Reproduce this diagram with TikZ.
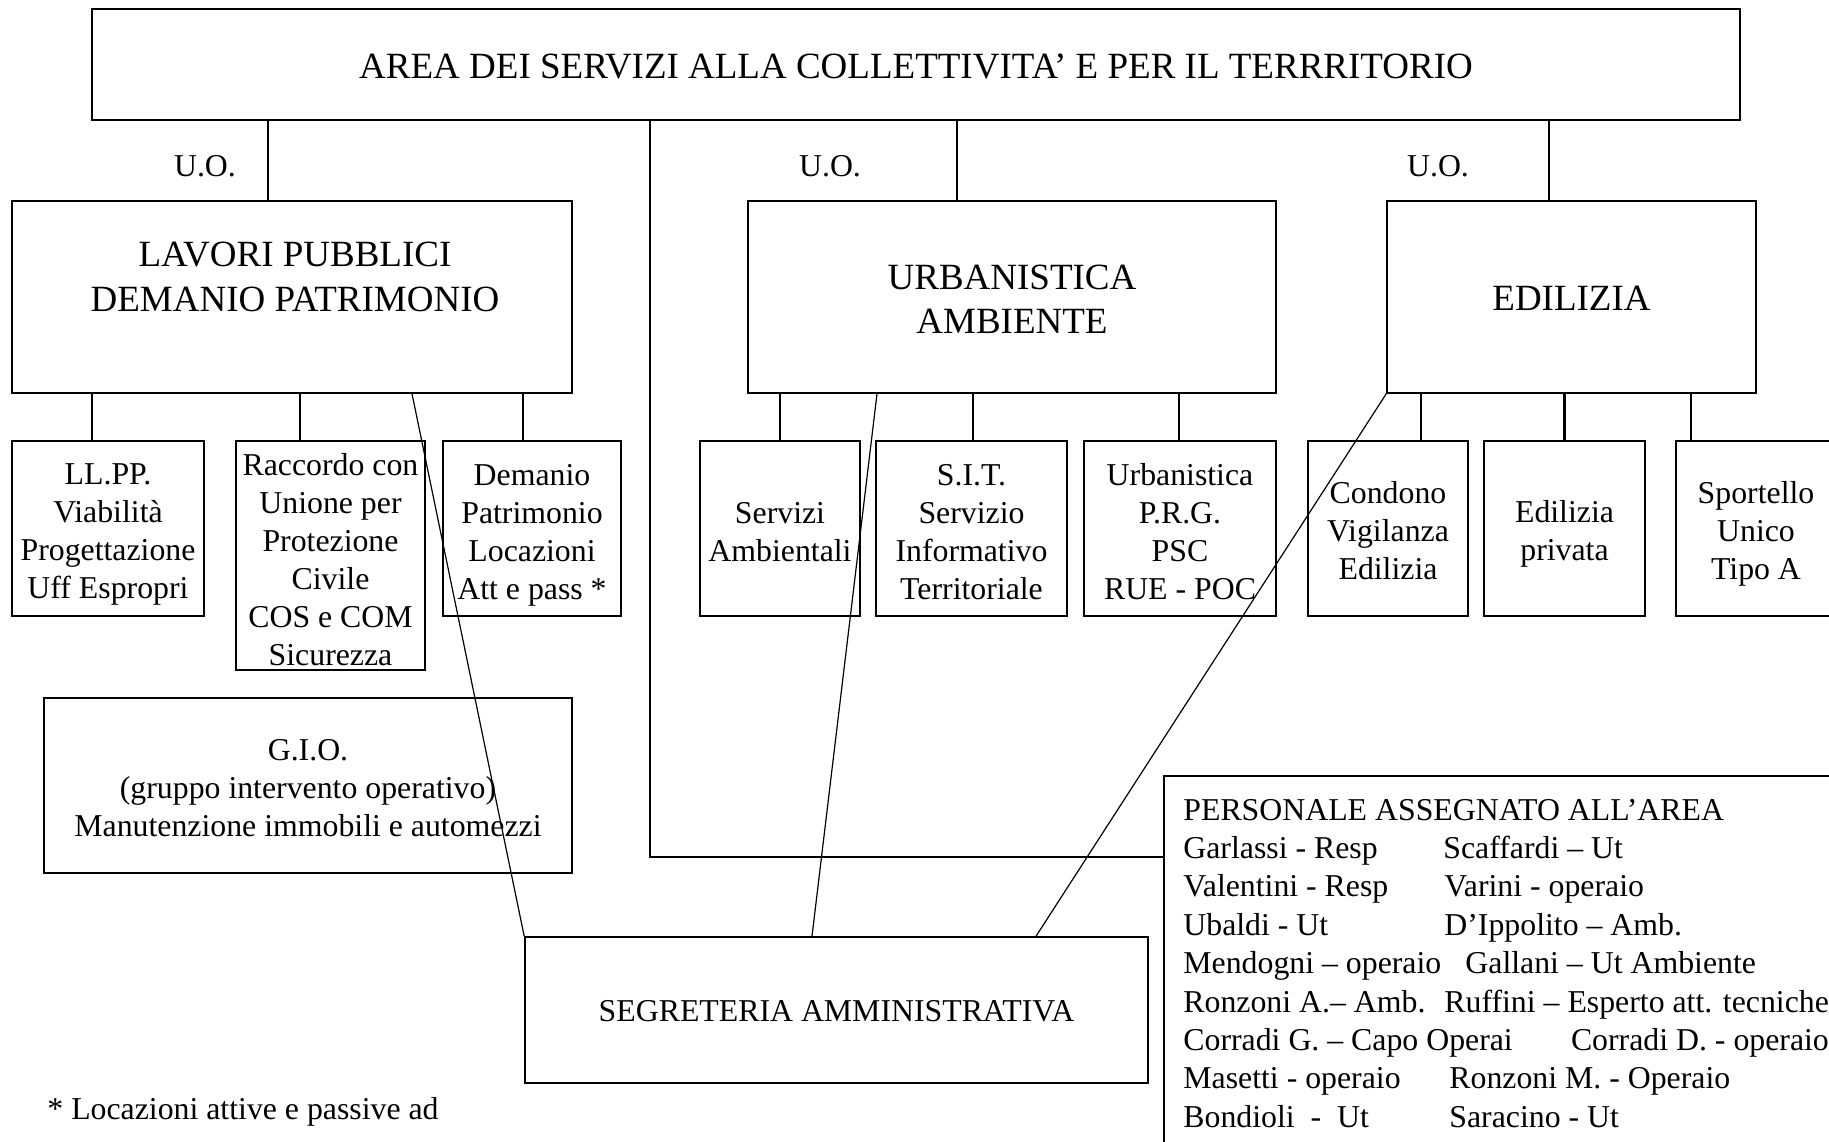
\documentclass[tikz,border=0pt]{standalone}
\usepackage{fontspec}
\setmainfont{Liberation Serif}
\newcommand\fsmall{\fontsize{15.9pt}{19pt}\selectfont}
\newcommand\fbig{\fontsize{18.5pt}{22.25pt}\selectfont}
\newcommand\fpers{\fontsize{15.9pt}{19.2pt}\selectfont}
\begin{document}
\begin{tikzpicture}[x=0.5pt,y=-0.5pt,
  frame/.style={draw, line width=0.8pt, inner sep=0pt},
  txt/.style={inner sep=0pt, align=center, font=\fsmall},
  bigtxt/.style={inner sep=0pt, align=center, font=\fbig},
  conn/.style={line width=1pt},
  stub/.style={line width=1.1pt},
  segline/.style={line width=1.25pt},
  diag/.style={line width=0.6pt}]
\useasboundingbox (0,0) rectangle (1829,1141);
% top box
\node[frame, minimum width=824pt, minimum height=55.5pt] (top) at (916,64.5) {};
\node[bigtxt] (topt) at ([yshift=-1.2pt]top.center)
  {AREA DEI SERVIZI ALLA COLLETTIVITA’ E PER IL TERRRITORIO};
% U.O. labels
\node[txt] (uo1) at (205,166.5) {U.O.};
\node[txt] (uo2) at (830,166.5) {U.O.};
\node[txt] (uo3) at (1438,166.5) {U.O.};
% main units
\node[frame, minimum width=280pt, minimum height=96pt] (lav) at (292,297) {};
\node[bigtxt] (lavt) at (295,277) {LAVORI PUBBLICI\\DEMANIO PATRIMONIO};
\node[frame, minimum width=264pt, minimum height=96pt] (urb) at (1012,297) {};
\node[bigtxt] (urbt) at ([yshift=-1.2pt]urb.center) {URBANISTICA\\AMBIENTE};
\node[frame, minimum width=184.5pt, minimum height=96pt] (edi) at (1571.5,297) {};
\node[bigtxt] (edit) at ([yshift=-0.6pt]edi.center) {EDILIZIA};
% sub boxes
\node[frame, minimum width=96pt, minimum height=87.5pt] (llpp) at (108,528.5) {};
\node[txt] (llppt) at ([yshift=-2.9pt]llpp.center)
  {LL.PP.\\Viabilità\\Progettazione\\Uff Espropri};
\node[frame, minimum width=94.5pt, minimum height=114.5pt] (racc) at (330.5,555.5) {};
\node[txt] (racct) at ([yshift=-2pt]racc.center)
  {Raccordo con\\Unione per\\Protezione\\Civile\\COS e COM\\Sicurezza};
\node[frame, minimum width=89pt, minimum height=87.5pt] (dem) at (532,528.5) {};
\node[txt] (demt) at ([yshift=-3.2pt]dem.center)
  {Demanio\\Patrimonio\\Locazioni\\Att e pass *};
\node[frame, minimum width=80pt, minimum height=87.5pt] (serv) at (780,528.5) {};
\node[txt] (servt) at ([yshift=-1.75pt]serv.center) {Servizi\\Ambientali};
\node[frame, minimum width=95.5pt, minimum height=87.5pt] (sit) at (971.5,528.5) {};
\node[txt] (sitt) at ([yshift=-1.75pt]sit.center)
  {S.I.T.\\Servizio\\Informativo\\Territoriale};
\node[frame, minimum width=96pt, minimum height=87.5pt] (urbs) at (1180,528.5) {};
\node[txt] (urbst) at ([yshift=-1.5pt]urbs.center)
  {Urbanistica\\P.R.G.\\PSC\\RUE - POC};
\node[frame, minimum width=80pt, minimum height=87.5pt] (cond) at (1388,528.5) {};
\node[txt] (condt) at ([yshift=-1.2pt]cond.center) {Condono\\Vigilanza\\Edilizia};
\node[frame, minimum width=80.5pt, minimum height=87.5pt] (edpr) at (1564.5,528.5) {};
\node[txt] (edprt) at ([yshift=-2.6pt]edpr.center) {Edilizia\\privata};
\node[frame, minimum width=80pt, minimum height=87.5pt] (sport) at (1756,528.5) {};
\node[txt] (sportt) at ([yshift=-2.6pt]sport.center) {Sportello\\Unico\\Tipo A};
% G.I.O.
\node[frame, minimum width=264pt, minimum height=87.5pt] (gio) at (308,785.5) {};
\node[txt] (giot) at ([yshift=-1.5pt]gio.center)
  {G.I.O.\\(gruppo intervento operativo)\\Manutenzione immobili e automezzi};
% Segreteria
\node[frame, minimum width=311.5pt, minimum height=73pt] (seg) at (836.5,1010) {};
\node[txt] (segt) at ([yshift=-0.6pt]seg.center) {SEGRETERIA AMMINISTRATIVA};
% Personale
\node[frame, minimum width=368pt, minimum height=212pt] (pers) at (1532,988) {};
\node[inner sep=0pt, align=left, font=\fpers, anchor=north west] (perst) at (1183,798.5)
  {PERSONALE ASSEGNATO ALL’AREA\\
   \makebox[130pt][l]{Garlassi - Resp}Scaffardi – Ut\\
   \makebox[130.5pt][l]{Valentini - Resp}Varini - operaio\\
   \makebox[130.5pt][l]{Ubaldi - Ut}D’Ippolito – Amb.\\
   \makebox[141pt][l]{Mendogni – operaio}Gallani – Ut Ambiente\\
   \makebox[130.5pt][l]{Ronzoni A.– Amb.}Ruffini – Esperto att. tecniche\\
   \makebox[193.8pt][l]{Corradi G. – Capo Operai}Corradi D. - operaio\\
   \makebox[133pt][l]{Masetti - operaio}Ronzoni M. - Operaio\\
   \makebox[133pt][l]{Bondioli\ \ -\ \ Ut}Saracino - Ut};
% footnote
\node[txt, anchor=west] (foot) at (47,1112) {* Locazioni attive e passive ad};
% connectors from top
\coordinate (c1) at ([xshift=-12pt]lav.north);
\coordinate (c2) at ([xshift=-27.5pt]urb.north);
\coordinate (c3) at ([xshift=-11.25pt]edi.north);
\draw[conn] (c1) -- (c1 |- top.south);
\draw[conn] (c2) -- (c2 |- top.south);
\draw[conn] (c3) -- (c3 |- top.south);
% line to personale
\coordinate (sc) at (650,857);
\draw[segline] (sc |- top.south) -- (sc) -- (sc -| pers.west);
% stubs
\coordinate (s1) at ([xshift=-8pt]llpp.north);
\coordinate (s2) at ([xshift=-15.25pt]racc.north);
\coordinate (s3) at ([xshift=-4.5pt]dem.north);
\coordinate (s4) at (serv.north);
\coordinate (s5) at ([xshift=0.75pt]sit.north);
\coordinate (s6) at ([xshift=-0.5pt]urbs.north);
\coordinate (s7) at ([xshift=16.5pt]cond.north);
\coordinate (s8) at (edpr.north);
\coordinate (s9) at ([xshift=-32.5pt]sport.north);
\draw[stub] (s1) -- (s1 |- lav.south);
\draw[stub] (s2) -- (s2 |- lav.south);
\draw[stub] (s3) -- (s3 |- lav.south);
\draw[stub] (s4) -- (s4 |- urb.south);
\draw[stub] (s5) -- (s5 |- urb.south);
\draw[stub] (s6) -- (s6 |- urb.south);
\draw[stub] (s7) -- (s7 |- edi.south);
\draw[stub] (s8) -- (s8 |- edi.south);
\draw[stub] (s9) -- (s9 |- edi.south);
% diagonals to segreteria
\draw[diag] ([xshift=60pt]lav.south) -- (seg.north west);
\draw[diag] ([xshift=-67.5pt]urb.south) -- ([xshift=-12.25pt]seg.north);
\draw[diag] (edi.south west) -- ([xshift=99.75pt]seg.north);
\end{tikzpicture}
\end{document}
